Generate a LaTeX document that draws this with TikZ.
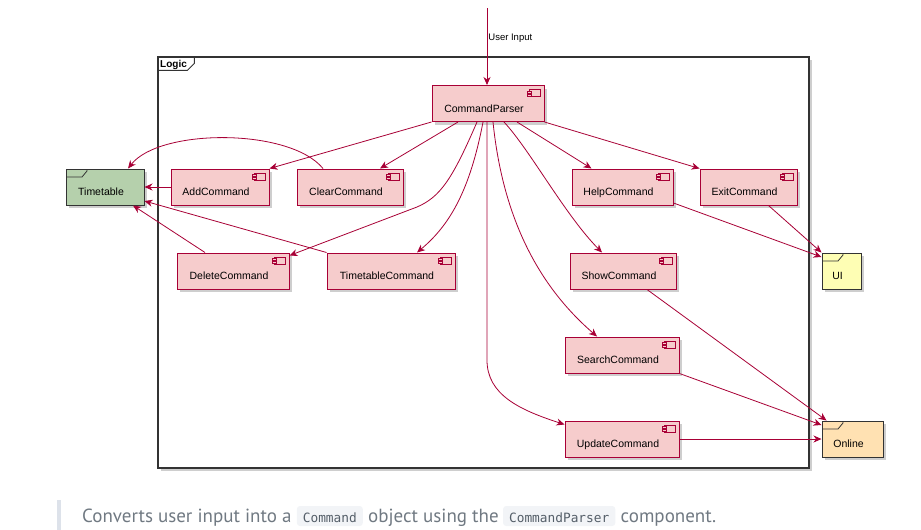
\documentclass[tikz,border=0pt]{standalone}
\usepackage{fontspec}
\setmainfont{Liberation Sans}
\newfontfamily\captionfont{PT Sans}
\newfontfamily\codefont{DejaVu Sans Mono}
\usepackage{tikz}
\usetikzlibrary{shapes,arrows.meta,positioning,calc,shadows}
\usepackage{xcolor}
\definecolor{umlred}{RGB}{168,0,54}
\definecolor{compfill}{RGB}{246,204,204}
\definecolor{framegray}{RGB}{51,51,51}
\definecolor{ttgreen}{RGB}{181,208,172}
\definecolor{uiyellow}{RGB}{254,254,180}
\definecolor{onlineorange}{RGB}{255,225,178}
\definecolor{captiongray}{RGB}{112,121,130}
\definecolor{codegray}{RGB}{85,95,105}
\definecolor{codebg}{RGB}{242,244,247}
\definecolor{barblue}{RGB}{221,226,234}

\tikzset{
  umlshadow/.style={drop shadow={shadow xshift=3pt, shadow yshift=-3pt, opacity=0.35, fill=black!55}},
  boxtext/.style={font=\fontsize{10.5}{12}\selectfont, text height=19pt, text depth=2pt,
    inner xsep=0pt, minimum height=36pt, execute at end node={\hspace{8pt}}},
  comp/.style={rectangle, boxtext, draw=umlred, fill=compfill, line width=1pt, umlshadow,
    path picture={
      \draw[umlred, line width=0.7pt, fill=compfill]
        ($(path picture bounding box.north east)+(-15,4)$) rectangle ++(11,7);
      \draw[umlred, line width=0.7pt, fill=compfill]
        ($(path picture bounding box.north east)+(-17,5.5)$) rectangle ++(4,2)
        ($(path picture bounding box.north east)+(-17,8.5)$) rectangle ++(4,2);
    }},
  pkg/.style={rectangle, boxtext, draw=framegray, line width=1pt, umlshadow,
    path picture={
      \draw[framegray, line width=0.8pt]
        ($(path picture bounding box.north west)+(0,8)$) -- ++(16,0) -- ++(5,-6) -- ++(0,-3);
    }},
  link/.style={draw=umlred, line width=0.8pt, ->},
  captext/.style={font=\captionfont\fontsize{19}{22}\selectfont, text=captiongray, inner sep=0pt},
  codebox/.style={font=\codefont\fontsize{12.8}{15}\selectfont, text=codegray, fill=codebg,
    rounded corners=3pt, inner xsep=6pt, inner ysep=4pt, text height=12pt, text depth=0pt}
}

\begin{document}
\begin{tikzpicture}[x=1pt, y=-1pt, >={Stealth[length=8pt,width=7pt,inset=2.5pt]}]
\useasboundingbox (0,0) rectangle (921,530);

% Logic frame
\node[rectangle, draw=framegray, fill=white, line width=1.2pt, umlshadow,
      minimum width=651pt, minimum height=411pt] (logic) at (483.5,262.5) {};
\draw[framegray, line width=0.9pt] ($(logic.north west)+(0,14)$) -- ++(30,0) -- ++(7,-7) -- ++(0,-7);
\node[anchor=west, inner sep=0pt, font=\bfseries\fontsize{10}{12}\selectfont] (logiclabel) at (160,64.5) {Logic};

% components
\node[comp, minimum width=112pt] (parser) at (488,103.5) {CommandParser};
\node[comp, minimum width=98pt] (add) at (220,187) {AddCommand};
\node[comp, minimum width=106pt] (clear) at (350,187) {ClearCommand};
\node[comp, minimum width=112pt] (delete) at (233,271) {DeleteCommand};
\node[comp, minimum width=128pt] (ttcmd) at (391,271) {TimetableCommand};
\node[comp, minimum width=101pt] (help) at (622.5,187) {HelpCommand};
\node[comp, minimum width=97pt] (exit) at (748.5,187) {ExitCommand};
\node[comp, minimum width=106pt] (show) at (623,271) {ShowCommand};
\node[comp, minimum width=114pt] (search) at (622,355) {SearchCommand};
\node[comp, minimum width=114pt] (update) at (622,439) {UpdateCommand};

% packages outside
\node[pkg, fill=ttgreen, minimum width=78pt] (timetable) at (105,187) {Timetable};
\node[pkg, fill=uiyellow, minimum width=39pt] (ui) at (841.5,271) {UI};
\node[pkg, fill=onlineorange, minimum width=61pt] (online) at (852.5,439) {Online};

% input
\coordinate (input) at (487,8);
\draw[link] (input) -- node[pos=0.39, anchor=west, inner sep=1pt, font=\fontsize{9.5}{11}\selectfont] (inputlabel) {User Input} ($(parser.north)+(-1,0)$);

% parser to commands
\draw[link] (parser.south west) -- (add.north east);
\draw[link] ($(parser.south)+(-30,0)$) -- ($(clear.north)+(30,0)$);
\draw[link] ($(parser.south)+(-11,0)$) .. controls (452,180) and (440,197) .. (417,207) -- ($(delete.north east)+(0,3)$);
\draw[link] ($(parser.south)+(-5,0)$) .. controls (470,190) and (450,225) .. ($(ttcmd.north)+(26,0)$);
\draw[link] ($(parser.south)+(-1,0)$) -- ++(0,238) .. controls +(0,35) and (520,410) .. ($(update.north west)+(0,4)$);
\draw[link] ($(parser.south)+(5,0)$) .. controls (505,240) and (555,300) .. ($(search.north)+(-25,0)$);
\draw[link] ($(parser.south)+(16,0)$) .. controls (530,150) and (565,215) .. ($(show.north)+(-21,0)$);
\draw[link] ($(parser.south)+(29,0)$) -- ($(help.north)+(-31,0)$);
\draw[link] (parser.south east) -- (exit.north west);

% commands to timetable
\draw[link] (add.west) -- (timetable.east);
\draw[link] ($(clear.north)+(-27,0)$) .. controls (290,128) and (160,128) .. ($(timetable.north)+(23,0)$);
\draw[link] ($(delete.north)+(-28,0)$) -- ($(timetable.south)+(28,0)$);
\draw[link] (ttcmd.north west) -- ($(timetable.east)+(0,14)$);

% commands to ui and online
\draw[link] ($(help.east)+(0,16)$) -- ($(ui.west)+(0,-14)$);
\draw[link] ($(exit.south)+(20,0)$) -- (ui.north west);
\draw[link] ($(show.south)+(24,0)$) -- ($(online.north west)+(5,0)$);
\draw[link] (search.south east) -- ($(online.west)+(0,-14)$);
\draw[link] (update) -- (online);

% caption
\fill[barblue] (57,500) rectangle (61,530);
\node[captext, anchor=base west] (cap1) at (82,522) {Converts user input into a};
\node[codebox, right=5pt of cap1.base east, anchor=base west] (code1) {Command};
\node[captext, right=5pt of code1.base east, anchor=base west] (cap2) {object using the};
\node[codebox, right=4pt of cap2.base east, anchor=base west] (code2) {CommandParser};
\node[captext, right=5pt of code2.base east, anchor=base west] (cap3) {component.};
\end{tikzpicture}
\end{document}
